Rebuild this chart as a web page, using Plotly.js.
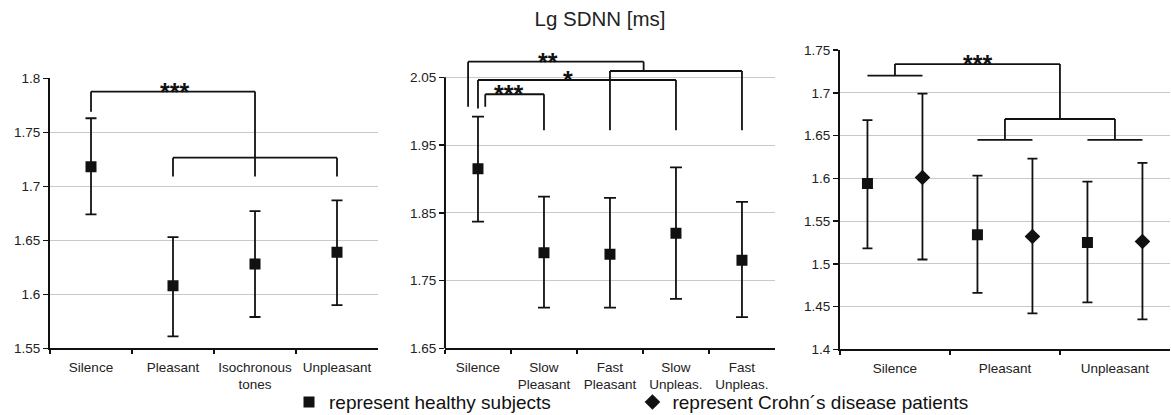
<!DOCTYPE html>
<html><head><meta charset="utf-8">
<script src="https://cdn.plot.ly/plotly-3.0.1.min.js"></script>
<style>html,body{margin:0;padding:0;background:#fff}#chart{width:1171px;height:415px}</style>
</head><body><div id="chart"></div>
<script>
// ---------- Panel 1 ----------
const p1Categories = ['Silence', 'Pleasant', 'Isochronous<br>tones', 'Unpleasant'];
const p1Mean  = [1.718, 1.608, 1.628, 1.639];
const p1Upper = [1.763, 1.653, 1.677, 1.687];
const p1Lower = [1.674, 1.561, 1.579, 1.590];
const p1TickVals = [1.55, 1.6, 1.65, 1.7, 1.75, 1.8];
const p1TickText = ['1.55', '1.6', '1.65', '1.7', '1.75', '1.8'];

// ---------- Panel 2 ----------
const p2Categories = ['Silence', 'Slow<br>Pleasant', 'Fast<br>Pleasant', 'Slow<br>Unpleas.', 'Fast<br>Unpleas.'];
const p2Mean  = [1.915, 1.791, 1.789, 1.820, 1.780];
const p2Upper = [1.992, 1.874, 1.872, 1.917, 1.866];
const p2Lower = [1.837, 1.710, 1.710, 1.723, 1.696];
const p2TickVals = [1.65, 1.75, 1.85, 1.95, 2.05];
const p2TickText = ['1.65', '1.75', '1.85', '1.95', '2.05'];

// ---------- Panel 3 ----------
const p3Categories = ['Silence', 'Pleasant', 'Unpleasant'];
const p3HealthyMean  = [1.594, 1.534, 1.525];
const p3HealthyUpper = [1.668, 1.603, 1.596];
const p3HealthyLower = [1.518, 1.466, 1.455];
const p3CrohnMean  = [1.601, 1.532, 1.526];
const p3CrohnUpper = [1.699, 1.623, 1.618];
const p3CrohnLower = [1.505, 1.442, 1.435];
const p3TickVals = [1.4, 1.45, 1.5, 1.55, 1.6, 1.65, 1.7, 1.75];
const p3TickText = ['1.4', '1.45', '1.5', '1.55', '1.6', '1.65', '1.7', '1.75'];

// ---------- Texts ----------
const titleText = 'Lg SDNN [ms]';
const legendHealthy = 'represent healthy subjects';
const legendCrohn = 'represent Crohn´s disease patients';

// ---------- Significance brackets (category index, value) ----------
const p1Brackets = [
  [[0, 1.769], [0, 1.7877], [2, 1.7877], [2, 1.709]],
  [[1, 1.709], [1, 1.7265], [3, 1.7265], [3, 1.709]]
];
const p1Stars = [{x: 1.02, y: 1.7877, text: '***'}];

const p2Brackets = [
  [[-0.15, 2.0067], [-0.15, 2.073], [2.51, 2.073], [2.51, 2.0593]],
  [[2, 1.972], [2, 2.0593], [4, 2.0593], [4, 1.972]],
  [[0, 2.004], [0, 2.046], [3, 2.046], [3, 1.972]],
  [[0.11, 2.0067], [0.11, 2.025], [1, 2.025], [1, 1.972]]
];
const p2Stars = [
  {x: 1.06, y: 2.073, text: '**'},
  {x: 1.36, y: 2.046, text: '*'},
  {x: 0.455, y: 2.025, text: '***'}
];

const p3Brackets = [
  [[-0.25, 1.72], [0.25, 1.72]],
  [[0, 1.72], [0, 1.7336], [1.5, 1.7336], [1.5, 1.6693]],
  [[1, 1.6448], [1, 1.6693], [2, 1.6693], [2, 1.6448]],
  [[0.75, 1.6448], [1.25, 1.6448]],
  [[1.75, 1.6448], [2.25, 1.6448]]
];
const p3Stars = [{x: 0.755, y: 1.7336, text: '***'}];

// ---------- Styling ----------
const INK = '#111111';
const FONT = 'Liberation Sans, Arial, Helvetica, sans-serif';

function errBar(mean, upper, lower, w) {
  return {
    type: 'data', symmetric: false,
    array: upper.map((u, i) => +(u - mean[i]).toFixed(4)),
    arrayminus: lower.map((l, i) => +(mean[i] - l).toFixed(4)),
    color: INK, thickness: 1.8, width: w
  };
}

const traces = [
  {
    x: p1Categories, y: p1Mean, type: 'scatter', mode: 'markers',
    xaxis: 'x', yaxis: 'y', showlegend: false,
    marker: {symbol: 'square', size: 11, color: INK},
    error_y: errBar(p1Mean, p1Upper, p1Lower, 5.5), hoverinfo: 'skip'
  },
  {
    x: p2Categories, y: p2Mean, type: 'scatter', mode: 'markers',
    xaxis: 'x2', yaxis: 'y2', showlegend: false,
    marker: {symbol: 'square', size: 11, color: INK},
    error_y: errBar(p2Mean, p2Upper, p2Lower, 6), hoverinfo: 'skip'
  },
  {
    x: p3Categories, y: p3HealthyMean, type: 'scatter', mode: 'markers',
    xaxis: 'x3', yaxis: 'y3', name: legendHealthy, legend: 'legend', showlegend: true,
    offsetgroup: 'h',
    marker: {symbol: 'square', size: 11, color: INK},
    error_y: errBar(p3HealthyMean, p3HealthyUpper, p3HealthyLower, 5), hoverinfo: 'skip'
  },
  {
    x: p3Categories, y: p3CrohnMean, type: 'scatter', mode: 'markers',
    xaxis: 'x3', yaxis: 'y3', name: legendCrohn, legend: 'legend2', showlegend: true,
    offsetgroup: 'c',
    marker: {symbol: 'diamond', size: 12, color: INK},
    error_y: errBar(p3CrohnMean, p3CrohnUpper, p3CrohnLower, 5), hoverinfo: 'skip'
  }
];

const xBase = {
  type: 'category', showline: true, linecolor: INK, linewidth: 2,
  ticks: 'outside', tickson: 'boundaries', ticklen: 4, tickcolor: INK, tickwidth: 1.5,
  ticklabelstandoff: 5, tickangle: 0,
  showgrid: false, zeroline: false, fixedrange: true,
  tickfont: {size: 13.5, color: '#222', family: FONT}
};
const yBase = {
  showline: true, linecolor: INK, linewidth: 2,
  ticks: 'outside', ticklen: 5, tickcolor: INK, tickwidth: 1.5,
  showgrid: true, gridcolor: '#c9c9c9', gridwidth: 1, zeroline: false, fixedrange: true,
  tickmode: 'array', tickfont: {size: 13.5, color: '#222', family: FONT}
};

const y2Range = [1.65, 2.08];
const y2Domain = [0.1607, 0.8627];

const layout = {
  width: 1171, height: 415,
  margin: {l: 0, r: 0, t: 0, b: 0, autoexpand: false},
  paper_bgcolor: '#fff', plot_bgcolor: '#fff',
  font: {family: FONT, color: '#222'},
  scattermode: 'group', scattergap: 0,
  title: {
    text: titleText, font: {size: 20.5, family: FONT, color: '#222'},
    x: 0.5124, xanchor: 'center', xref: 'paper', y: 0.954, yanchor: 'middle', yref: 'container'
  },
  xaxis:  Object.assign({}, xBase, {domain: [0.0427, 0.3228], range: [-0.5, 3.5], anchor: 'y'}),
  yaxis:  Object.assign({}, yBase, {domain: [0.1607, 0.8113], range: [1.55, 1.8], anchor: 'x',
            tickvals: p1TickVals, ticktext: p1TickText}),
  xaxis2: Object.assign({}, xBase, {domain: [0.3800, 0.6618], range: [-0.5, 4.5], anchor: 'y2'}),
  yaxis2: Object.assign({}, yBase, {domain: y2Domain, range: y2Range, anchor: 'x2', showline: false,
            tickvals: p2TickVals, ticktext: p2TickText}),
  xaxis3: Object.assign({}, xBase, {domain: [0.7173, 0.9991], range: [-0.5, 2.5], anchor: 'y3'}),
  yaxis3: Object.assign({}, yBase, {domain: [0.1583, 0.8795], range: [1.4, 1.75], anchor: 'x3',
            tickvals: p3TickVals, ticktext: p3TickText}),
  legend:  {x: 0.2468, y: 0.031, xanchor: 'left', yanchor: 'middle', orientation: 'h',
            bgcolor: 'rgba(0,0,0,0)', font: {size: 19, color: '#111', family: FONT}},
  legend2: {x: 0.5401, y: 0.031, xanchor: 'left', yanchor: 'middle', orientation: 'h',
            bgcolor: 'rgba(0,0,0,0)', font: {size: 19, color: '#111', family: FONT}},
  shapes: [],
  annotations: []
};

// y-axis line of panel 2 stops at the top tick (2.05)
const y2Top = y2Domain[0] + (p2TickVals[p2TickVals.length - 1] - y2Range[0]) /
              (y2Range[1] - y2Range[0]) * (y2Domain[1] - y2Domain[0]);
layout.shapes.push({type: 'line', xref: 'paper', yref: 'paper',
  x0: layout.xaxis2.domain[0], x1: layout.xaxis2.domain[0], y0: y2Domain[0], y1: y2Top,
  line: {color: INK, width: 2}});

function addBrackets(list, xr, yr) {
  list.forEach(poly => {
    for (let i = 0; i < poly.length - 1; i++) {
      layout.shapes.push({type: 'line', xref: xr, yref: yr,
        x0: poly[i][0], y0: poly[i][1], x1: poly[i + 1][0], y1: poly[i + 1][1],
        line: {color: INK, width: 1.8}});
    }
  });
}
function addStars(list, xr, yr) {
  list.forEach(s => {
    layout.annotations.push({xref: xr, yref: yr, x: s.x, y: s.y, text: '<b>' + s.text + '</b>',
      showarrow: false, xanchor: 'center', yanchor: 'bottom', yshift: -16,
      font: {size: 25, color: INK, family: FONT}});
  });
}
addBrackets(p1Brackets, 'x', 'y');   addStars(p1Stars, 'x', 'y');
addBrackets(p2Brackets, 'x2', 'y2'); addStars(p2Stars, 'x2', 'y2');
addBrackets(p3Brackets, 'x3', 'y3'); addStars(p3Stars, 'x3', 'y3');

Plotly.newPlot('chart', traces, layout, {staticPlot: true, displayModeBar: false});
</script>
</body></html>
